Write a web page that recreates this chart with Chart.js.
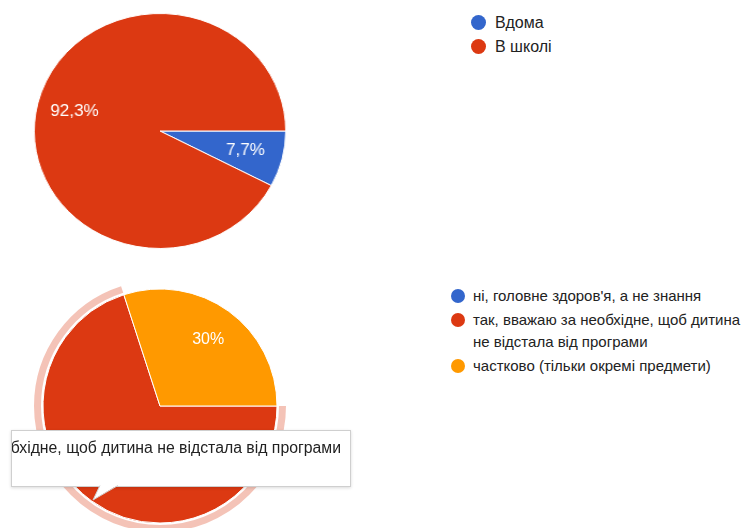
<!DOCTYPE html>
<html>
<head>
<meta charset="utf-8">
<script src="https://cdn.jsdelivr.net/npm/chart.js@4.4.1/dist/chart.umd.min.js"></script>
<style>
  body { margin: 0; width: 755px; height: 528px; overflow: hidden; background: #fff; position: relative;
         font-family: Arial, "Liberation Sans", sans-serif; color: #222; }
  .box { position: absolute; }
  #topBox { left: 42px; top: 13px; width: 236px; height: 236px; transform: scaleX(1.07); transform-origin: 50% 50%; }
  .legend { position: absolute; }
  .legend .item { position: relative; padding-left: 22px; }
  .legend .dot { position: absolute; left: 0; border-radius: 50%; }
  #legendTop { left: 471px; top: 11px; font-size: 16px; line-height: 24px; }
  #legendTop .item { padding-left: 24px; }
  #legendTop .dot { width: 15px; height: 15px; top: 4px; }
  #legendBottom { left: 451px; top: 285px; width: 302px; font-size: 15px; line-height: 22px; white-space: normal; }
  #legendBottom .item { margin-bottom: 2px; }
  #legendBottom .dot { width: 14px; height: 14px; top: 4px; }
  #tip { position: absolute; left: 11px; top: 430px; width: 338px; height: 55px; background: #fff;
         border: 1px solid #cfcfcf; box-shadow: 0 1px 3px rgba(0,0,0,0.15); overflow: hidden; z-index: 5; }
  #tip span { position: absolute; right: 9px; top: 8px; white-space: nowrap; font-size: 15.8px; color: #222; }
  #tail { position: absolute; left: 88px; top: 484px; z-index: 6; }
</style>
</head>
<body>
<div class="box" id="topBox"><canvas id="topPie"></canvas></div>
<div class="box" style="left:25px; top:271px; width:270px; height:270px;"><canvas id="bottomPie"></canvas></div>
<div class="legend" id="legendTop"></div>
<div class="legend" id="legendBottom"></div>
<div id="tip"><span id="tipText"></span></div>
<svg id="tail" width="40" height="20">
  <polygon points="12,1 30,1 5,16" fill="#fff" stroke="none"/>
  <polyline points="12,1.5 5,16 30,1.5" fill="none" stroke="#cfcfcf" stroke-width="1"/>
</svg>
<script>
// Питання 1
const placeLabels = ['Вдома', 'В школі'];
const placeCounts = [1, 12];
const placeColors = ['#3366cc', '#dc3912'];

// Питання 2
const needLabels = ['ні, головне здоров\'я, а не знання', 'так, вважаю за необхідне, щоб дитина не відстала від програми', 'частково (тільки окремі предмети)'];
const needCounts = [0, 7, 3];
const needColors = ['#3366cc', '#dc3912', '#ff9900'];

const hoveredIndex = 1;

// підписи з відсотками всередині секторів
const pctLabels = {
  id: 'pctLabels',
  afterDatasetsDraw(chart) {
    const ctx = chart.ctx;
    const data = chart.data.datasets[0].data;
    const total = data.reduce((a, b) => a + b, 0);
    ctx.save();
    ctx.fillStyle = '#fff';
    ctx.font = '16px Arial, "Liberation Sans", sans-serif';
    ctx.textAlign = 'center';
    ctx.textBaseline = 'middle';
    chart.getDatasetMeta(0).data.forEach((arc, i) => {
      if (!data[i]) return;
      const p = arc.getProps(['x', 'y', 'startAngle', 'endAngle', 'outerRadius'], true);
      const mid = (p.startAngle + p.endAngle) / 2;
      const r = p.outerRadius * 0.7;
      const pct = Math.round(data[i] / total * 1000) / 10;
      ctx.fillText(String(pct).replace('.', ',') + '%', p.x + Math.cos(mid) * r, p.y + Math.sin(mid) * r);
    });
    ctx.restore();
  }
};

// світле кільце навколо виділеного сектора
const hoverRing = {
  id: 'hoverRing',
  afterDatasetsDraw(chart, args, opts) {
    const arc = chart.getDatasetMeta(0).data[opts.index];
    if (!arc) return;
    const p = arc.getProps(['x', 'y', 'startAngle', 'endAngle', 'outerRadius'], true);
    const ctx = chart.ctx;
    ctx.save();
    ctx.beginPath();
    ctx.arc(p.x, p.y, p.outerRadius + opts.gap + opts.width / 2, p.startAngle, p.endAngle);
    ctx.lineWidth = opts.width;
    ctx.strokeStyle = opts.color;
    ctx.stroke();
    ctx.restore();
  }
};

function pie(id, labels, counts, colors, extra) {
  return new Chart(document.getElementById(id), {
    type: 'pie',
    data: {
      labels: labels,
      datasets: [Object.assign({
        data: counts,
        backgroundColor: colors,
        borderColor: '#fff',
        borderWidth: 1,
        hoverOffset: 0
      }, extra || {})]
    },
    options: {
      responsive: true,
      maintainAspectRatio: false,
      animation: false,
      rotation: 90,
      events: [],
      layout: { padding: 0 },
      plugins: {
        legend: { display: false },
        tooltip: { enabled: false },
        hoverRing: { index: hoveredIndex, gap: 2, width: 7, color: 'rgba(220,57,18,0.3)' }
      }
    },
    plugins: extra ? [pctLabels, hoverRing] : [pctLabels]
  });
}

pie('topPie', placeLabels, placeCounts, placeColors);
pie('bottomPie', needLabels, needCounts, needColors, { radius: 117 });

function legend(id, labels, colors) {
  const el = document.getElementById(id);
  labels.forEach((t, i) => {
    const item = document.createElement('div');
    item.className = 'item';
    const dot = document.createElement('span');
    dot.className = 'dot';
    dot.style.background = colors[i];
    item.appendChild(dot);
    item.appendChild(document.createTextNode(t));
    el.appendChild(item);
  });
}
legend('legendTop', placeLabels, placeColors);
legend('legendBottom', needLabels, needColors);

document.getElementById('tipText').textContent = needLabels[hoveredIndex];
</script>
</body>
</html>
